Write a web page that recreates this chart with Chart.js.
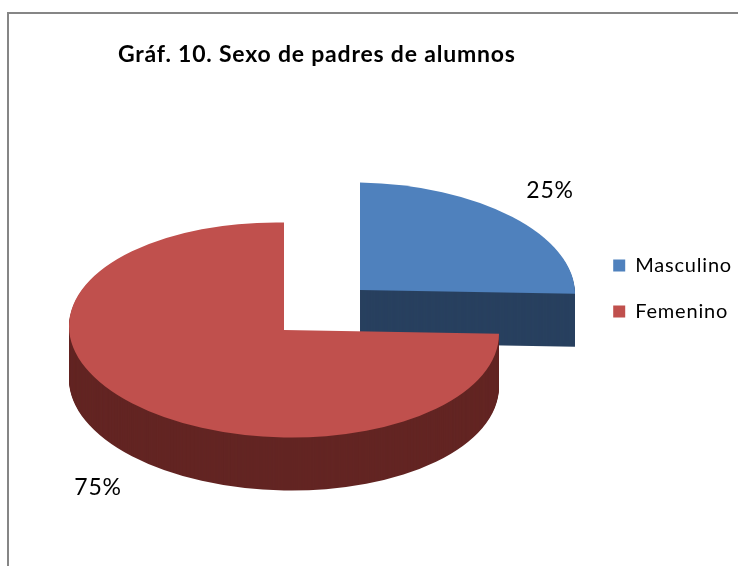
<!DOCTYPE html>
<html><head><meta charset="utf-8">
<style>
html,body{margin:0;padding:0;background:#fff;overflow:hidden}
#wrap{position:relative;width:738px;height:566px}
#frame{position:absolute;left:7px;top:12px;right:-4px;bottom:-4px;border:2px solid #868686;pointer-events:none}
canvas{position:absolute;left:0;top:0}
</style>
<script src="https://cdn.jsdelivr.net/npm/chart.js@4/dist/chart.umd.js"></script>
</head><body>
<div id="wrap"><canvas id="c" width="738" height="566"></canvas><div id="frame"></div></div>
<script>
const chartTitle = 'Gráf. 10. Sexo de padres de alumnos';
const categories = ['Masculino', 'Femenino'];
const values = [25, 75];
const topColors = ['#4F81BD', '#C0504D'];
const sideColors = ['#28405F', '#632523'];

const pieCentres = [[360, 290], [284, 330]];
const labelCentres = [[550, 191], [98, 488]];
const squash = 0.5, shear = 0.018, depth = 53;
const tracking = '0.8px';

const pie3d = {
  id: 'pie3d',
  beforeLayout(chart) { chart.ctx.letterSpacing = tracking; },
  beforeDraw(chart) { chart.ctx.letterSpacing = tracking; },
  beforeDatasetDraw(chart, args) {
    const arcs = chart.getDatasetMeta(args.index).data;
    const ctx = chart.ctx;
    const paint = (arc, i, dy, color) => {
      const saved = arc.options;
      arc.options = Object.assign({}, saved, {backgroundColor: color, borderWidth: 0, offset: 0});
      ctx.save();
      ctx.translate(pieCentres[i][0], pieCentres[i][1] + dy);
      ctx.transform(1, shear, 0, squash, 0, 0);
      ctx.translate(-arc.x, -arc.y);
      arc.draw(ctx);
      ctx.restore();
      arc.options = saved;
    };
    arcs.forEach((arc, i) => { for (let d = depth; d >= 1; d--) paint(arc, i, d, sideColors[i]); paint(arc, i, 0, topColors[i]); });
    return false;
  },
  afterDatasetsDraw(chart) {
    const ctx = chart.ctx, total = values.reduce((a, b) => a + b, 0);
    ctx.save();
    ctx.font = '23px Lato';
    ctx.fillStyle = '#000';
    ctx.textAlign = 'center';
    ctx.textBaseline = 'middle';
    values.forEach((v, i) => ctx.fillText(Math.round(v / total * 100) + '%', labelCentres[i][0], labelCentres[i][1]));
    ctx.restore();
  }
};

new Chart(document.getElementById('c'), {
  type: 'pie',
  data: { labels: categories, datasets: [{ data: values, backgroundColor: topColors, borderWidth: 0, radius: 215 }] },
  plugins: [pie3d],
  options: {
    responsive: false,
    animation: false,
    events: [],
    layout: { padding: { left: 118, top: 41, right: -4, bottom: 30 } },
    plugins: {
      tooltip: { enabled: false },
      title: { display: true, text: chartTitle, align: 'start', color: '#000', padding: 0, font: { family: 'Lato', size: 23, weight: 'bold' } },
      legend: {
        position: 'right',
        labels: { boxWidth: 12, boxHeight: 12, padding: 26, color: '#000', font: { family: 'Lato', size: 20 } }
      }
    }
  }
});
</script>
</body></html>
